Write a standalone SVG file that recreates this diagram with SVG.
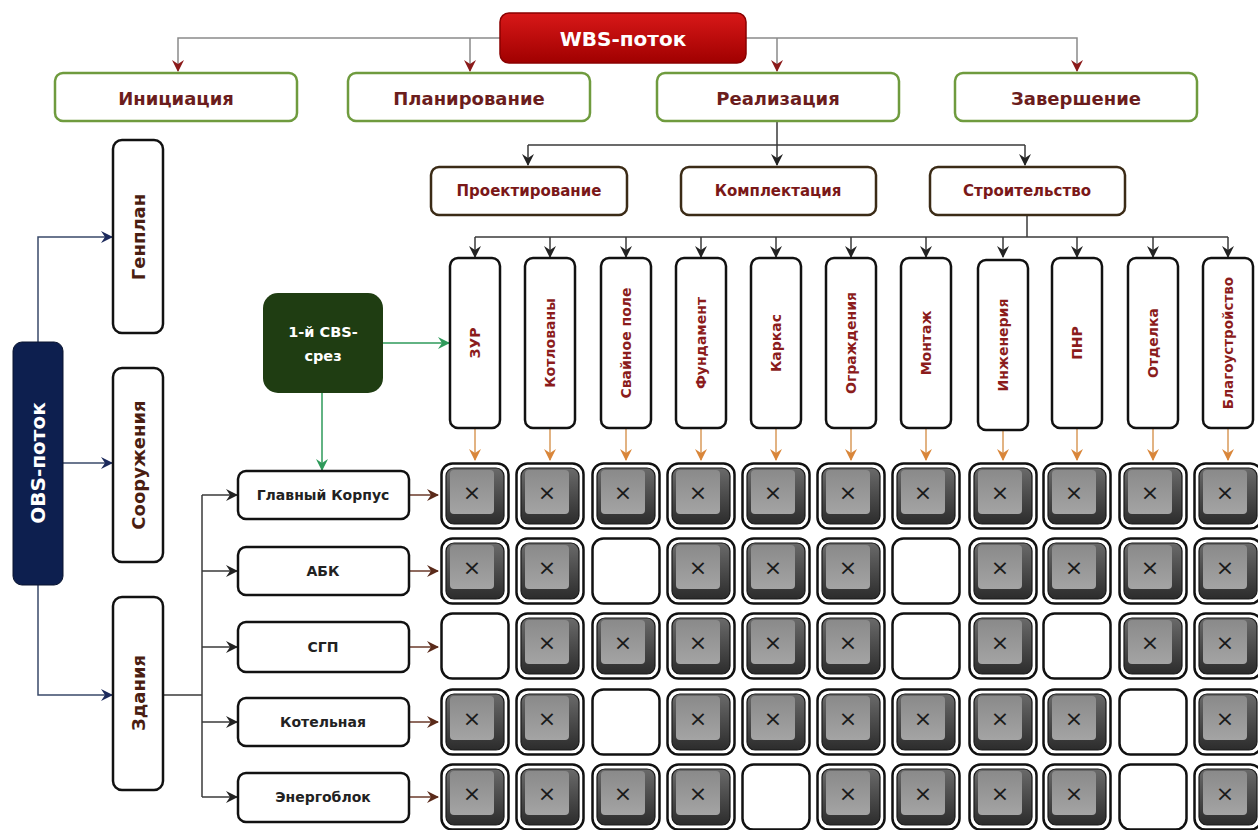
<svg xmlns="http://www.w3.org/2000/svg" xmlns:xlink="http://www.w3.org/1999/xlink" width="1258" height="830" viewBox="0 0 1258 830">
<style>
text{font-family:"DejaVu Sans","Liberation Sans",sans-serif;font-weight:bold;text-anchor:middle;dominant-baseline:central}
.w{fill:none;stroke-width:1.5}
.gr{stroke:#8a8a8a}
.dk{stroke:#3a3a3a}
.or{stroke:#d99a5a}
.br{stroke:#6a3a2a}
.nv{stroke:#3a4a6a}
.gn{stroke:#2e9a5a}
.b1{fill:#fff;stroke:#6f9b3e;stroke-width:2.5}
.b2{fill:#fff;stroke:#3b2b16;stroke-width:2.5}
.bk{fill:#fff;stroke:#111;stroke-width:2.5}
.t1{font-size:18px;fill:#6b1d1d}
.t2{font-size:15px;fill:#7a1818}
.tc{font-size:14px;fill:#8b1c1c}
.tl{font-size:18px;fill:#4a1e12}
.tr{font-size:14px;fill:#222}
.tw{fill:#fff}
.xm{font-family:"DejaVu Sans",sans-serif;font-weight:normal;font-size:22px;fill:#1a1a1a}
</style>
<defs>
<marker id="aR" viewBox="0 0 12 12" refX="11" refY="6" markerWidth="12" markerHeight="12" markerUnits="userSpaceOnUse" orient="auto"><path d="M0,0 L12,6 L0,12 L4,6 z" fill="#8b1a1a"/></marker>
<marker id="aK" viewBox="0 0 12 12" refX="11" refY="6" markerWidth="12" markerHeight="12" markerUnits="userSpaceOnUse" orient="auto"><path d="M0,0 L12,6 L0,12 L4,6 z" fill="#222"/></marker>
<marker id="aO" viewBox="0 0 12 12" refX="11" refY="6" markerWidth="12" markerHeight="12" markerUnits="userSpaceOnUse" orient="auto"><path d="M0,0 L12,6 L0,12 L4,6 z" fill="#d9863a"/></marker>
<marker id="aB" viewBox="0 0 12 12" refX="11" refY="6" markerWidth="12" markerHeight="12" markerUnits="userSpaceOnUse" orient="auto"><path d="M0,0 L12,6 L0,12 L4,6 z" fill="#5a2a1a"/></marker>
<marker id="aN" viewBox="0 0 12 12" refX="11" refY="6" markerWidth="12" markerHeight="12" markerUnits="userSpaceOnUse" orient="auto"><path d="M0,0 L12,6 L0,12 L4,6 z" fill="#1c2a5c"/></marker>
<marker id="aG" viewBox="0 0 12 12" refX="11" refY="6" markerWidth="12" markerHeight="12" markerUnits="userSpaceOnUse" orient="auto"><path d="M0,0 L12,6 L0,12 L4,6 z" fill="#2e9a5a"/></marker>
<linearGradient id="gW" x1="0" y1="0" x2="0" y2="1"><stop offset="0" stop-color="#d81818"/><stop offset="1" stop-color="#a00000"/></linearGradient>
<linearGradient id="gBtn" x1="0" y1="0" x2="0" y2="1"><stop offset="0" stop-color="#6a6a6a"/><stop offset="1" stop-color="#2c2c2c"/></linearGradient>
<linearGradient id="gFace" x1="0" y1="0" x2="0" y2="1"><stop offset="0" stop-color="#8a8a8a"/><stop offset="1" stop-color="#a4a4a4"/></linearGradient>
<g id="cx">
<rect x="1.5" y="1.5" width="67" height="65" rx="11" fill="#fff" stroke="#111" stroke-width="2.5"/>
<rect x="6" y="6" width="58" height="56" rx="8" fill="url(#gBtn)" stroke="#1a1a1a" stroke-width="1.2"/>
<rect x="10" y="8" width="44" height="44" rx="4" fill="url(#gFace)"/>
<text x="32" y="30" class="xm">×</text>
</g>
<g id="ce">
<rect x="1.5" y="1.5" width="67" height="65" rx="11" fill="#fff" stroke="#111" stroke-width="2.5"/>
</g>
</defs>
<rect width="1258" height="830" fill="#fff"/>

<g id="connectors">
<!-- WBS -->
<path class="w gr" d="M500,38 H178 V71" marker-end="url(#aR)"/>
<path class="w gr" d="M470,38 V71" marker-end="url(#aR)"/>
<path class="w gr" d="M746,38 H1077 V71" marker-end="url(#aR)"/>
<path class="w gr" d="M777,38 V71" marker-end="url(#aR)"/>
<!-- Реализация -->
<path class="w dk" d="M777,121 V145"/>
<path class="w dk" d="M528,145 H1025"/>
<path class="w dk" d="M528,145 V165" marker-end="url(#aK)"/>
<path class="w dk" d="M777,145 V165" marker-end="url(#aK)"/>
<path class="w dk" d="M1025,145 V165" marker-end="url(#aK)"/>
<!-- Строительство -->
<path class="w dk" d="M1027,215 V237"/>
<path class="w dk" d="M475,237 H1228"/>
<path class="w dk" d="M475,237 V257" marker-end="url(#aK)"/>
<path class="w dk" d="M550,237 V257" marker-end="url(#aK)"/>
<path class="w dk" d="M626,237 V257" marker-end="url(#aK)"/>
<path class="w dk" d="M701,237 V257" marker-end="url(#aK)"/>
<path class="w dk" d="M776,237 V257" marker-end="url(#aK)"/>
<path class="w dk" d="M851,237 V257" marker-end="url(#aK)"/>
<path class="w dk" d="M926,237 V257" marker-end="url(#aK)"/>
<path class="w dk" d="M1003,237 V257" marker-end="url(#aK)"/>
<path class="w dk" d="M1077,237 V257" marker-end="url(#aK)"/>
<path class="w dk" d="M1153,237 V257" marker-end="url(#aK)"/>
<path class="w dk" d="M1228,237 V257" marker-end="url(#aK)"/>
<!-- columns to cells -->
<path class="w or" d="M475,428 V460" marker-end="url(#aO)"/>
<path class="w or" d="M550,428 V460" marker-end="url(#aO)"/>
<path class="w or" d="M626,428 V460" marker-end="url(#aO)"/>
<path class="w or" d="M701,428 V460" marker-end="url(#aO)"/>
<path class="w or" d="M776,428 V460" marker-end="url(#aO)"/>
<path class="w or" d="M851,428 V460" marker-end="url(#aO)"/>
<path class="w or" d="M926,428 V460" marker-end="url(#aO)"/>
<path class="w or" d="M1003,428 V460" marker-end="url(#aO)"/>
<path class="w or" d="M1077,428 V460" marker-end="url(#aO)"/>
<path class="w or" d="M1153,428 V460" marker-end="url(#aO)"/>
<path class="w or" d="M1228,428 V460" marker-end="url(#aO)"/>
<!-- OBS -->
<path class="w nv" d="M38,342 V237 H112" marker-end="url(#aN)"/>
<path class="w nv" d="M63,463 H112" marker-end="url(#aN)"/>
<path class="w nv" d="M38,585 V695 H112" marker-end="url(#aN)"/>
<!-- Здания -->
<path class="w dk" d="M163,695 H202"/>
<path class="w dk" d="M202,495 V797"/>
<path class="w dk" d="M202,495 H237" marker-end="url(#aK)"/>
<path class="w dk" d="M202,571 H237" marker-end="url(#aK)"/>
<path class="w dk" d="M202,647 H237" marker-end="url(#aK)"/>
<path class="w dk" d="M202,722 H237" marker-end="url(#aK)"/>
<path class="w dk" d="M202,797 H237" marker-end="url(#aK)"/>
<!-- rows to cells -->
<path class="w br" d="M409,495 H438" marker-end="url(#aB)"/>
<path class="w br" d="M409,571 H438" marker-end="url(#aB)"/>
<path class="w br" d="M409,647 H438" marker-end="url(#aB)"/>
<path class="w br" d="M409,722 H438" marker-end="url(#aB)"/>
<path class="w br" d="M409,797 H438" marker-end="url(#aB)"/>
<!-- CBS -->
<path class="w gn" d="M383,343 H449" marker-end="url(#aG)"/>
<path class="w gn" d="M322,393 V470" marker-end="url(#aG)"/>
</g>

<g id="wbs"><rect x="500" y="13" width="246" height="50" rx="9" fill="url(#gW)" stroke="#8a0000" stroke-width="1.5"/><text x="623" y="39" class="tw" style="font-size:20px">WBS-поток</text></g>

<g id="n-init"><rect x="55" y="73" width="242" height="48" rx="8" class="b1"/><text x="176" y="98" class="t1">Инициация</text></g>
<g id="n-plan"><rect x="348" y="73" width="242" height="48" rx="8" class="b1"/><text x="469" y="98" class="t1">Планирование</text></g>
<g id="n-real"><rect x="657" y="73" width="242" height="48" rx="8" class="b1"/><text x="778" y="98" class="t1">Реализация</text></g>
<g id="n-zav"><rect x="955" y="73" width="242" height="48" rx="8" class="b1"/><text x="1076" y="98" class="t1">Завершение</text></g>

<g id="n-proj"><rect x="431" y="167" width="196" height="48" rx="8" class="b2"/><text x="529" y="191" class="t2">Проектирование</text></g>
<g id="n-kompl"><rect x="681" y="167" width="195" height="48" rx="8" class="b2"/><text x="778" y="191" class="t2">Комплектация</text></g>
<g id="n-stroi"><rect x="930" y="167" width="195" height="48" rx="8" class="b2"/><text x="1027" y="191" class="t2">Строительство</text></g>

<g id="c1"><rect x="450" y="258" width="50" height="170" rx="8" class="bk"/><text transform="translate(475,343) rotate(-90)" class="tc">ЗУР</text></g>
<g id="c2"><rect x="525" y="258" width="50" height="170" rx="8" class="bk"/><text transform="translate(550,343) rotate(-90)" class="tc">Котлованы</text></g>
<g id="c3"><rect x="601" y="258" width="50" height="170" rx="8" class="bk"/><text transform="translate(626,343) rotate(-90)" class="tc">Свайное поле</text></g>
<g id="c4"><rect x="676" y="258" width="50" height="170" rx="8" class="bk"/><text transform="translate(701,343) rotate(-90)" class="tc">Фундамент</text></g>
<g id="c5"><rect x="751" y="258" width="50" height="170" rx="8" class="bk"/><text transform="translate(776,343) rotate(-90)" class="tc">Каркас</text></g>
<g id="c6"><rect x="826" y="258" width="50" height="170" rx="8" class="bk"/><text transform="translate(851,343) rotate(-90)" class="tc">Ограждения</text></g>
<g id="c7"><rect x="901" y="258" width="50" height="170" rx="8" class="bk"/><text transform="translate(926,343) rotate(-90)" class="tc">Монтаж</text></g>
<g id="c8"><rect x="978" y="260" width="50" height="170" rx="8" class="bk"/><text transform="translate(1003,345) rotate(-90)" class="tc">Инженерия</text></g>
<g id="c9"><rect x="1052" y="258" width="50" height="170" rx="8" class="bk"/><text transform="translate(1077,343) rotate(-90)" class="tc">ПНР</text></g>
<g id="c10"><rect x="1128" y="258" width="50" height="170" rx="8" class="bk"/><text transform="translate(1153,343) rotate(-90)" class="tc">Отделка</text></g>
<g id="c11"><rect x="1203" y="258" width="50" height="170" rx="8" class="bk"/><text transform="translate(1228,343) rotate(-90)" class="tc" style="font-size:13.5px">Благоустройство</text></g>

<g id="obs"><rect x="13" y="342" width="50" height="243" rx="9" fill="#0d1f4f" stroke="#0a1530" stroke-width="1"/><text transform="translate(38,463) rotate(-90)" class="tw" style="font-size:20px">OBS-поток</text></g>
<g id="genplan"><rect x="113" y="140" width="50" height="193" rx="9" class="bk"/><text transform="translate(138,237) rotate(-90)" class="tl">Генплан</text></g>
<g id="sooruzh"><rect x="113" y="368" width="50" height="194" rx="9" class="bk"/><text transform="translate(138,465) rotate(-90)" class="tl">Сооружения</text></g>
<g id="zdania"><rect x="113" y="597" width="50" height="193" rx="9" class="bk"/><text transform="translate(138,693) rotate(-90)" class="tl">Здания</text></g>

<g id="cbs"><rect x="263" y="293" width="120" height="100" rx="15" fill="#1f3d12"/><text x="323" y="332" class="tw" style="font-size:14.5px">1-й CBS-</text><text x="323" y="356" class="tw" style="font-size:14.5px">срез</text></g>

<g id="r1"><rect x="238" y="471" width="171" height="48" rx="8" class="bk"/><text x="323" y="495" class="tr">Главный Корпус</text></g>
<g id="r2"><rect x="238" y="547" width="171" height="48" rx="8" class="bk"/><text x="323" y="571" class="tr">АБК</text></g>
<g id="r3"><rect x="238" y="622" width="171" height="50" rx="8" class="bk"/><text x="323" y="647" class="tr">СГП</text></g>
<g id="r4"><rect x="238" y="698" width="171" height="48" rx="8" class="bk"/><text x="323" y="722" class="tr">Котельная</text></g>
<g id="r5"><rect x="238" y="773" width="171" height="49" rx="8" class="bk"/><text x="323" y="797" class="tr">Энергоблок</text></g>

<g id="matrix">
<use href="#cx" x="440" y="462"/><use href="#cx" x="515" y="462"/><use href="#cx" x="591" y="462"/><use href="#cx" x="666" y="462"/><use href="#cx" x="741" y="462"/><use href="#cx" x="816" y="462"/><use href="#cx" x="891" y="462"/><use href="#cx" x="968" y="462"/><use href="#cx" x="1042" y="462"/><use href="#cx" x="1118" y="462"/><use href="#cx" x="1193" y="462"/>
<use href="#cx" x="440" y="537"/><use href="#cx" x="515" y="537"/><use href="#ce" x="591" y="537"/><use href="#cx" x="666" y="537"/><use href="#cx" x="741" y="537"/><use href="#cx" x="816" y="537"/><use href="#ce" x="891" y="537"/><use href="#cx" x="968" y="537"/><use href="#cx" x="1042" y="537"/><use href="#cx" x="1118" y="537"/><use href="#cx" x="1193" y="537"/>
<use href="#ce" x="440" y="612"/><use href="#cx" x="515" y="612"/><use href="#cx" x="591" y="612"/><use href="#cx" x="666" y="612"/><use href="#cx" x="741" y="612"/><use href="#cx" x="816" y="612"/><use href="#ce" x="891" y="612"/><use href="#cx" x="968" y="612"/><use href="#ce" x="1042" y="612"/><use href="#cx" x="1118" y="612"/><use href="#cx" x="1193" y="612"/>
<use href="#cx" x="440" y="688"/><use href="#cx" x="515" y="688"/><use href="#ce" x="591" y="688"/><use href="#cx" x="666" y="688"/><use href="#cx" x="741" y="688"/><use href="#cx" x="816" y="688"/><use href="#cx" x="891" y="688"/><use href="#cx" x="968" y="688"/><use href="#cx" x="1042" y="688"/><use href="#ce" x="1118" y="688"/><use href="#cx" x="1193" y="688"/>
<use href="#cx" x="440" y="763"/><use href="#cx" x="515" y="763"/><use href="#cx" x="591" y="763"/><use href="#cx" x="666" y="763"/><use href="#ce" x="741" y="763"/><use href="#cx" x="816" y="763"/><use href="#cx" x="891" y="763"/><use href="#cx" x="968" y="763"/><use href="#cx" x="1042" y="763"/><use href="#ce" x="1118" y="763"/><use href="#cx" x="1193" y="763"/>
</g>
</svg>
